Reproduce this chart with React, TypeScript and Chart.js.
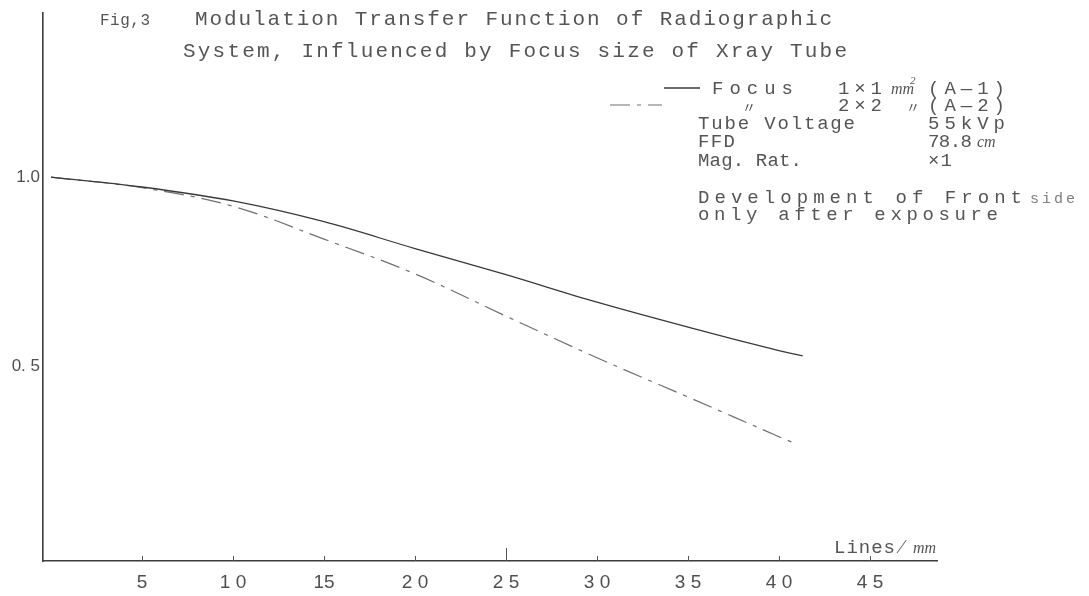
import React, { useEffect, useRef } from "react";
import { Chart, registerables } from "chart.js";

Chart.register(...registerables);

// Spatial frequency (lines/mm) and MTF readings for the two focal spot sizes
const focus1x1Freq = [0, 5, 10, 15, 20, 25, 30, 35, 40, 41.3];
const focus1x1Mtf = [1.0, 0.974, 0.937, 0.882, 0.811, 0.742, 0.669, 0.603, 0.541, 0.527];
const focus2x2Freq = [0, 5, 10, 15, 20, 25, 30, 35, 40, 40.8];
const focus2x2Mtf = [1.0, 0.972, 0.923, 0.836, 0.744, 0.632, 0.522, 0.418, 0.313, 0.297];

// Axis ticks as typed on the figure
const xTickValues = [5, 10, 15, 20, 25, 30, 35, 40, 45];
const xTickLabels = ["5", "1 0", "15", "2 0", "2 5", "3 0", "3 5", "4 0", "4 5"];
const yTickValues = [0.5, 1.0];
const yTickLabels = ["0. 5", "1.0"];

const TYPE = '"Liberation Mono", "DejaVu Sans Mono", monospace';
const HAND = '"Liberation Serif", "DejaVu Serif", serif';
const NARROW = '"Liberation Sans Narrow", "Liberation Sans", sans-serif';
const INK = "#555555";

const SOLID_STYLE = { color: "#3a3a3a", width: 1.3, dash: [] as number[] };
const DASH_STYLE = { color: "#707070", width: 1.2, dash: [20, 7, 4, 7] };

// Draw a string stretched between two x positions, like typewriter pitch
function typeText(
  ctx: CanvasRenderingContext2D,
  text: string,
  x0: number,
  x1: number,
  y: number,
  font: string,
  color = INK
) {
  ctx.save();
  ctx.font = font;
  ctx.fillStyle = color;
  ctx.textAlign = "left";
  ctx.textBaseline = "alphabetic";
  (ctx as any).letterSpacing = "0px";
  const w = ctx.measureText(text).width;
  const n = Array.from(text).length;
  const ls = n > 1 ? (x1 - x0 - w) / (n - 1) : 0;
  (ctx as any).letterSpacing = `${ls}px`;
  ctx.fillText(text, x0, y);
  ctx.restore();
}

function plainText(
  ctx: CanvasRenderingContext2D,
  text: string,
  x: number,
  y: number,
  font: string,
  color = INK
) {
  ctx.save();
  ctx.font = font;
  ctx.fillStyle = color;
  ctx.textAlign = "left";
  ctx.textBaseline = "alphabetic";
  ctx.fillText(text, x, y);
  ctx.restore();
}

function sampleLine(
  ctx: CanvasRenderingContext2D,
  x0: number,
  x1: number,
  y: number,
  style: { color: string; width: number; dash: number[] }
) {
  ctx.save();
  ctx.strokeStyle = style.color;
  ctx.lineWidth = style.width;
  ctx.setLineDash(style.dash);
  ctx.beginPath();
  ctx.moveTo(x0, y);
  ctx.lineTo(x1, y);
  ctx.stroke();
  ctx.restore();
}

const paperPlugin = {
  id: "paper",
  beforeDraw(chart: any) {
    const { ctx, width, height } = chart;
    ctx.save();
    ctx.fillStyle = "#ffffff";
    ctx.fillRect(0, 0, width, height);
    ctx.restore();
  },
};

const annotationsPlugin = {
  id: "typedAnnotations",
  afterDraw(chart: any) {
    const ctx: CanvasRenderingContext2D = chart.ctx;
    const xs = chart.scales.x;
    const axisY = chart.chartArea.bottom;

    // small tick marks rising from the frequency axis
    ctx.save();
    ctx.strokeStyle = "#555";
    ctx.lineWidth = 1;
    xTickValues.forEach((v) => {
      const px = Math.round(xs.getPixelForValue(v)) + 0.5;
      ctx.beginPath();
      ctx.moveTo(px, axisY);
      ctx.lineTo(px, axisY - (v === 25 ? 13 : 5));
      ctx.stroke();
    });
    ctx.restore();

    const title = `21px ${TYPE}`;
    typeText(ctx, "Fig,3", 100, 150, 25, `16px ${TYPE}`);
    typeText(ctx, "Modulation Transfer Function of Radiographic", 195, 832, 25, title);
    typeText(ctx, "System, Influenced by Focus size of Xray Tube", 183, 847, 57, title);

    const f = `19px ${TYPE}`;
    const it = `italic 16px ${HAND}`;
    const ditto = `14px "Noto Sans CJK JP", sans-serif`;

    sampleLine(ctx, 664, 700, 88, SOLID_STYLE);
    typeText(ctx, "Focus", 712, 793, 94, f);
    typeText(ctx, "1×1", 838, 882, 94, f);
    plainText(ctx, "mm", 891, 94, it);
    plainText(ctx, "2", 910, 84, `italic 11px ${HAND}`);
    typeText(ctx, "(A—1)", 928, 1005, 94, f);

    sampleLine(ctx, 610, 662, 105, DASH_STYLE);
    plainText(ctx, "〃", 742, 112, ditto);
    typeText(ctx, "2×2", 838, 882, 111, f);
    plainText(ctx, "〃", 906, 112, ditto);
    typeText(ctx, "(A—2)", 928, 1005, 111, f);

    typeText(ctx, "Tube Voltage", 698, 855, 129, f);
    typeText(ctx, "55kVp", 928, 1005, 129, f);

    typeText(ctx, "FFD", 698, 735, 147, f);
    typeText(ctx, "78.8", 928, 972, 147, f);
    plainText(ctx, "cm", 977, 147, it);

    typeText(ctx, "Mag. Rat.", 698, 802, 166, f);
    typeText(ctx, "×1", 928, 952, 166, f);

    typeText(ctx, "Development of Front", 698, 1022, 203, f);
    typeText(ctx, "side", 1030, 1075, 203, `15px ${TYPE}`, "#808080");
    typeText(ctx, "only after exposure", 698, 998, 220, f);

    // axis caption
    typeText(ctx, "Lines", 834, 895, 553, f);
    plainText(ctx, "∕", 900, 553, `20px ${HAND}`);
    plainText(ctx, "mm", 913, 553, it);
  },
};

export default function App() {
  const canvasRef = useRef<HTMLCanvasElement | null>(null);

  useEffect(() => {
    const canvas = canvasRef.current;
    if (!canvas) return;

    const chart = new Chart(canvas, {
      type: "line",
      data: {
        datasets: [
          {
            label: "Focus 1×1 mm² (A-1)",
            data: focus1x1Freq.map((x, i) => ({ x, y: focus1x1Mtf[i] })),
            borderColor: SOLID_STYLE.color,
            borderWidth: SOLID_STYLE.width,
            pointRadius: 0,
            tension: 0.35,
            fill: false,
          },
          {
            label: "Focus 2×2 mm² (A-2)",
            data: focus2x2Freq.map((x, i) => ({ x, y: focus2x2Mtf[i] })),
            borderColor: DASH_STYLE.color,
            borderWidth: DASH_STYLE.width,
            borderDash: DASH_STYLE.dash,
            pointRadius: 0,
            tension: 0.35,
            fill: false,
          },
        ],
      },
      options: {
        animation: false,
        responsive: false,
        devicePixelRatio: 1,
        layout: { padding: { left: 0, top: 10, right: 152, bottom: 0 } },
        plugins: {
          legend: { display: false },
          title: { display: false },
          tooltip: { enabled: false },
        },
        scales: {
          x: {
            type: "linear",
            min: -0.44,
            max: 48.68,
            grid: { display: false, drawTicks: false },
            border: { display: true, color: "#3c3c3c", width: 1.6 },
            afterBuildTicks: (scale: any) => {
              scale.ticks = xTickValues.map((value) => ({ value }));
            },
            afterFit: (scale: any) => {
              scale.height = 35;
            },
            ticks: {
              padding: 10,
              color: "#505050",
              font: { family: NARROW, size: 19 },
              callback: (value: any) => {
                const i = xTickValues.indexOf(Number(value));
                return i >= 0 ? xTickLabels[i] : "";
              },
            },
          },
          y: {
            type: "linear",
            min: -0.016,
            max: 1.434,
            grid: { display: false, drawTicks: false },
            border: { display: true, color: "#3c3c3c", width: 1.6 },
            afterBuildTicks: (scale: any) => {
              scale.ticks = yTickValues.map((value) => ({ value }));
            },
            afterFit: (scale: any) => {
              scale.width = 43;
            },
            ticks: {
              padding: 3,
              color: "#505050",
              font: { family: NARROW, size: 17 },
              callback: (value: any) => {
                const i = yTickValues.indexOf(Number(value));
                return i >= 0 ? yTickLabels[i] : "";
              },
            },
          },
        },
      },
      plugins: [paperPlugin, annotationsPlugin],
    });

    return () => chart.destroy();
  }, []);

  return (
    <div style={{ position: "absolute", left: 0, top: 0, width: 1089, height: 596, background: "#fff" }}>
      <canvas ref={canvasRef} width={1089} height={596} style={{ display: "block" }} />
    </div>
  );
}
